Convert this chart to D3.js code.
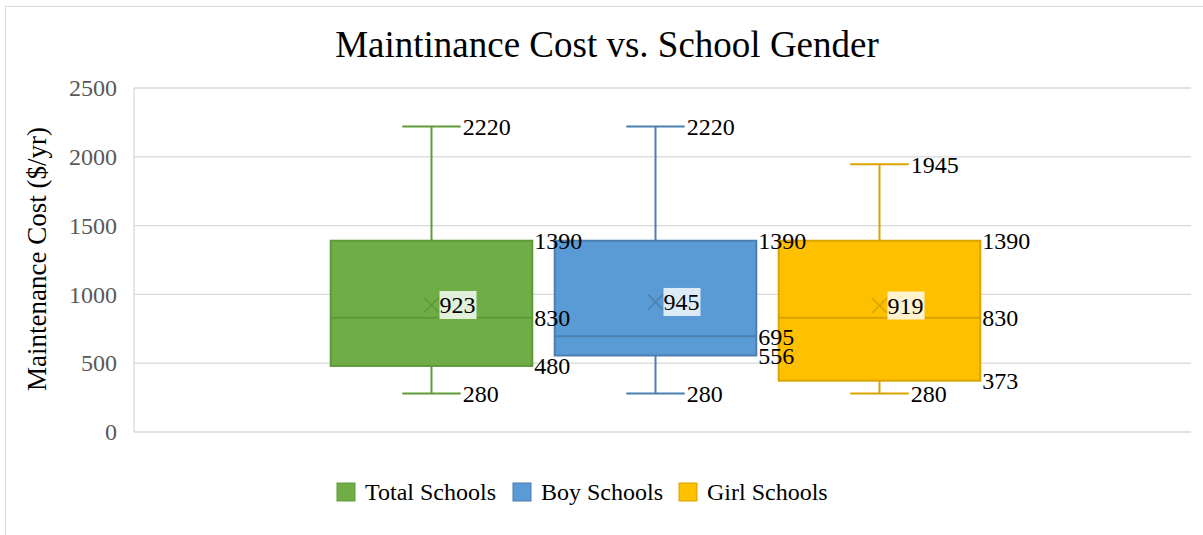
<!DOCTYPE html>
<html>
<head>
<meta charset="utf-8">
<script src="https://cdn.jsdelivr.net/npm/d3@7"></script>
<style>
  body { margin: 0; background: #fff; }
  text { font-family: "Liberation Serif", "Times New Roman", serif; }
</style>
</head>
<body>
<svg id="chart"></svg>
<script>
// data
const series = ["Total Schools", "Boy Schools", "Girl Schools"];
const minVals = [280, 280, 280];
const q1Vals = [480, 556, 373];
const medianVals = [830, 695, 830];
const q3Vals = [1390, 1390, 1390];
const maxVals = [2220, 2220, 1945];
const meanVals = [923, 945, 919];
const yTicks = [0, 500, 1000, 1500, 2000, 2500];

const colors = ["#70AD47", "#5B9BD5", "#FFC000"];
const strokes = ["#5E9A3A", "#4A7FB0", "#D9A300"];
const labelBg = ["#E2EFDA", "#DDEBF7", "#FFF2CC"];

const W = 1203, H = 535;
const plot = {left: 134, right: 1191, top: 88, bottom: 432};

const svg = d3.select("#chart").attr("width", W).attr("height", H);

// outer chart border (right/bottom run off the picture)
svg.append("rect")
  .attr("x", 5.5).attr("y", 6.5)
  .attr("width", W + 20).attr("height", H + 20)
  .attr("fill", "none").attr("stroke", "#d9d9d9").attr("stroke-width", 1);

const y = d3.scaleLinear().domain([0, 2500]).range([plot.bottom, plot.top]);
const x = d3.scaleBand().domain(series)
  .range([319.5, 991.5]).paddingInner(0.1).paddingOuter(0.05);

// gridlines
svg.append("g").selectAll("line").data(yTicks).join("line")
  .attr("x1", plot.left).attr("x2", plot.right)
  .attr("y1", d => y(d)).attr("y2", d => y(d))
  .attr("stroke", "#d9d9d9").attr("stroke-width", 1.3);

// left axis line
svg.append("line")
  .attr("x1", plot.left).attr("x2", plot.left)
  .attr("y1", plot.top).attr("y2", plot.bottom)
  .attr("stroke", "#d9d9d9").attr("stroke-width", 1.3);

// y axis labels
const yAxis = d3.axisLeft(y).tickValues(yTicks).tickFormat(d3.format("d"))
  .tickSize(0).tickPadding(17);
const ga = svg.append("g").attr("transform", `translate(${plot.left},0)`).call(yAxis);
ga.select(".domain").remove();
ga.selectAll("text")
  .attr("font-size", 24).attr("fill", "#595959");

// title
svg.append("text")
  .attr("x", 607).attr("y", 57)
  .attr("text-anchor", "middle")
  .attr("font-size", 37).attr("fill", "#000")
  .text("Maintinance Cost vs. School Gender");

// y axis title
svg.append("text")
  .attr("transform", "translate(37,259) rotate(-90)")
  .attr("text-anchor", "middle")
  .attr("dy", "0.35em")
  .attr("font-size", 27).attr("fill", "#000")
  .text("Maintenance Cost ($/yr)");

// boxes
const boxes = series.map((s, i) => ({
  s, i, min: minVals[i], q1: q1Vals[i], med: medianVals[i],
  q3: q3Vals[i], max: maxVals[i], mean: meanVals[i]
}));

const bw = x.bandwidth();
const capW = bw * 0.29;
const cx = d => x(d.s) + bw / 2;

const g = svg.append("g").selectAll("g").data(boxes).join("g");

// whiskers
g.append("line")
  .attr("x1", cx).attr("x2", cx)
  .attr("y1", d => y(d.max)).attr("y2", d => y(d.q3))
  .attr("stroke", d => strokes[d.i]).attr("stroke-width", 2);
g.append("line")
  .attr("x1", cx).attr("x2", cx)
  .attr("y1", d => y(d.q1)).attr("y2", d => y(d.min))
  .attr("stroke", d => strokes[d.i]).attr("stroke-width", 2);
g.append("line")
  .attr("x1", d => cx(d) - capW / 2).attr("x2", d => cx(d) + capW / 2)
  .attr("y1", d => y(d.max)).attr("y2", d => y(d.max))
  .attr("stroke", d => strokes[d.i]).attr("stroke-width", 2);
g.append("line")
  .attr("x1", d => cx(d) - capW / 2).attr("x2", d => cx(d) + capW / 2)
  .attr("y1", d => y(d.min)).attr("y2", d => y(d.min))
  .attr("stroke", d => strokes[d.i]).attr("stroke-width", 2);

// box
g.append("rect")
  .attr("x", d => x(d.s)).attr("width", bw)
  .attr("y", d => y(d.q3)).attr("height", d => y(d.q1) - y(d.q3))
  .attr("fill", d => colors[d.i])
  .attr("stroke", d => strokes[d.i]).attr("stroke-width", 2);

// median
g.append("line")
  .attr("x1", d => x(d.s)).attr("x2", d => x(d.s) + bw)
  .attr("y1", d => y(d.med)).attr("y2", d => y(d.med))
  .attr("stroke", d => strokes[d.i]).attr("stroke-width", 2);

// mean marker (x)
const ms = 7.5;
g.append("path")
  .attr("d", d => {
    const px = cx(d), py = y(d.mean);
    return `M${px - ms},${py - ms}L${px + ms},${py + ms}M${px - ms},${py + ms}L${px + ms},${py - ms}`;
  })
  .attr("stroke", d => strokes[d.i]).attr("stroke-width", 1.6).attr("fill", "none");

// labels on top of every box
const lg = svg.append("g").selectAll("g").data(boxes).join("g");
const fs = 24;
function label(sel, xf, yf, tf) {
  sel.append("text")
    .attr("x", xf).attr("y", yf)
    .attr("dy", "0.35em")
    .attr("font-size", fs).attr("fill", "#000")
    .text(tf);
}
label(lg, d => cx(d) + capW / 2 + 2, d => y(d.max), d => d.max);
label(lg, d => cx(d) + capW / 2 + 2, d => y(d.min), d => d.min);
label(lg, d => x(d.s) + bw + 2, d => y(d.q3), d => d.q3);
label(lg, d => x(d.s) + bw + 2, d => y(d.q1), d => d.q1);
label(lg, d => x(d.s) + bw + 2, d => y(d.med), d => d.med);

// mean label with background
lg.append("rect")
  .attr("x", d => cx(d) + 8).attr("y", d => y(d.mean) - 14)
  .attr("width", 37).attr("height", 28)
  .attr("fill", d => labelBg[d.i]);
label(lg, d => cx(d) + 8, d => y(d.mean), d => d.mean);

// legend
const legX = [337, 513, 679];
const leg = svg.append("g").selectAll("g").data(series).join("g")
  .attr("transform", (d, i) => `translate(${legX[i]},492)`);
leg.append("rect")
  .attr("x", 0).attr("y", -9).attr("width", 18).attr("height", 18)
  .attr("fill", (d, i) => colors[i])
  .attr("stroke", (d, i) => strokes[i]).attr("stroke-width", 1);
leg.append("text")
  .attr("x", 28).attr("y", 0).attr("dy", "0.35em")
  .attr("font-size", 24).attr("fill", "#000")
  .text(d => d);
</script>
</body>
</html>
